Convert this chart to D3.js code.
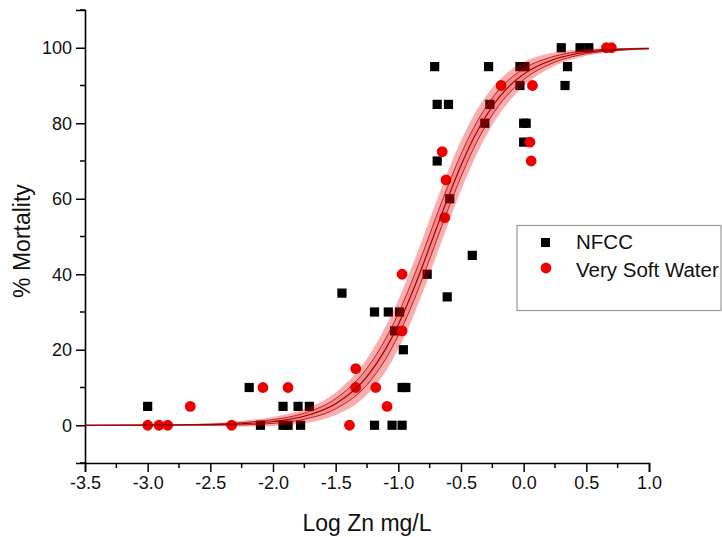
<!DOCTYPE html>
<html>
<head>
<meta charset="utf-8">
<script src="https://cdn.jsdelivr.net/npm/d3@7"></script>
<style>
  body { margin: 0; background: #fff; }
  text { font-family: "Liberation Sans", Arial, sans-serif; fill: #111; }
</style>
</head>
<body>
<div id="canvas"></div>
<script>
// points: [log Zn, % mortality]
var nfcc = [
  [-3.0, 5], [-2.19, 10], [-2.1, 0], [-1.92, 5], [-1.92, 0], [-1.88, 0],
  [-1.8, 5], [-1.71, 5], [-1.78, 0], [-1.45, 35], [-1.19, 30], [-1.08, 30],
  [-0.99, 30], [-1.19, 0], [-1.05, 0], [-0.97, 0], [-1.03, 25], [-0.96, 20],
  [-0.97, 10], [-0.94, 10], [-0.77, 40], [-0.61, 34], [-0.41, 45], [-0.59, 60],
  [-0.69, 70], [-0.69, 85], [-0.6, 85], [-0.71, 95], [-0.27, 85], [-0.31, 80],
  [-0.28, 95], [-0.03, 90], [0.0, 80], [0.02, 80], [0.0, 75], [-0.03, 95],
  [0.01, 95], [0.33, 90], [0.35, 95], [0.3, 100], [0.45, 100], [0.52, 100]
];
var softWater = [
  [-3.0, 0], [-2.91, 0], [-2.84, 0], [-2.33, 0], [-1.39, 0],
  [-2.66, 5], [-1.09, 5], [-2.08, 10], [-1.88, 10], [-1.34, 10], [-1.18, 10],
  [-1.34, 15], [-0.97, 25], [-0.97, 40], [-0.63, 55], [-0.62, 65], [-0.65, 72.5],
  [0.06, 70], [0.05, 75], [-0.18, 90], [0.07, 90], [0.66, 100], [0.7, 100]
];

// fitted curve and its bands, read at these x positions
var curveX  = [-3.5, -3.0, -2.5, -2.25, -2.0, -1.75, -1.5, -1.25, -1.1, -1.0, -0.9, -0.8, -0.7, -0.6, -0.5, -0.4, -0.3, -0.2, -0.1, 0.0, 0.25, 0.5, 0.75, 1.0];
var fitY    = [0, 0.03, 0.16, 0.4, 1.0, 2.4, 5.7, 12.9, 20.3, 26.7, 34.3, 42.8, 51.8, 60.6, 68.8, 76.0, 81.9, 86.7, 90.3, 93.0, 97.0, 98.8, 99.5, 99.8];
var outerLo = [0, -0.02, -0.2, -0.4, -0.2, 0.5, 2.7, 8.1, 14.3, 20.2, 27.3, 35.6, 44.6, 53.6, 62.2, 70.0, 76.6, 82.1, 86.4, 89.8, 95.2, 97.9, 99.1, 99.6];
var outerHi = [0, 0.08, 0.5, 1.2, 2.2, 4.3, 8.7, 17.7, 26.3, 33.2, 41.3, 50.0, 59.0, 67.6, 75.4, 82.0, 87.2, 91.3, 94.2, 96.2, 98.8, 99.7, 99.9, 100];
var innerLo = [0, 0.01, 0.03, 0.1, 0.5, 1.6, 4.35, 10.7, 17.6, 23.8, 31.15, 39.55, 48.55, 57.45, 65.8, 73.3, 79.5, 84.6, 88.55, 91.55, 96.2, 98.4, 99.3, 99.7];
var innerHi = [0, 0.05, 0.29, 0.7, 1.5, 3.2, 7.05, 15.1, 23.0, 29.6, 37.45, 46.05, 55.05, 63.75, 71.8, 78.7, 84.3, 88.8, 92.05, 94.45, 97.8, 99.2, 99.7, 99.9];

var xTicks = [-3.5, -3.0, -2.5, -2.0, -1.5, -1.0, -0.5, 0.0, 0.5, 1.0];
var yTicks = [0, 20, 40, 60, 80, 100];
var seriesNames = ["NFCC", "Very Soft Water"];

var W = 722, H = 537;
var x = d3.scaleLinear().domain([-3.5, 1.0]).range([85, 649]);
var y = d3.scaleLinear().domain([-10, 110]).range([463, 10]);

var svg = d3.select("#canvas").append("svg")
    .attr("width", W).attr("height", H);

// axes
var xAxis = d3.axisBottom(x).tickValues(xTicks).tickFormat(d3.format(".1f"))
    .tickSizeOuter(0).tickSize(9).tickPadding(4);
var gx = svg.append("g").attr("transform", "translate(0," + y(-10) + ")").call(xAxis);
gx.selectAll("text").style("font-size", "18px").text(function (d) { return d3.format(".1f")(d).replace("−", "-"); });

var xMinor = d3.range(-3.25, 1.0, 0.5);
gx.selectAll(".minor").data(xMinor).enter().append("line")
    .attr("x1", function (d) { return x(d); }).attr("x2", function (d) { return x(d); })
    .attr("y1", 0).attr("y2", 5).attr("stroke", "#000").attr("stroke-width", 1.5);

var yAxis = d3.axisLeft(y).tickValues(yTicks).tickSizeOuter(0).tickSize(9).tickPadding(4);
var gy = svg.append("g").attr("transform", "translate(" + x(-3.5) + ",0)").call(yAxis);
gy.selectAll("text").style("font-size", "18px");
gy.selectAll(".minor").data(d3.range(-10, 111, 20)).enter().append("line")
    .attr("y1", function (d) { return y(d); }).attr("y2", function (d) { return y(d); })
    .attr("x1", 0).attr("x2", -5).attr("stroke", "#000").attr("stroke-width", 1.5);

[gx, gy].forEach(function (g) {
  g.select(".domain").attr("stroke", "#000").attr("stroke-width", 1.6);
  g.selectAll(".tick line").attr("stroke", "#000").attr("stroke-width", 1.5);
  g.selectAll("text").attr("fill", "#111").style("font-family", "'Liberation Sans', Arial, sans-serif");
});

svg.append("text").attr("x", 367).attr("y", 531)
    .attr("text-anchor", "middle").style("font-size", "23px").text("Log Zn mg/L");
svg.append("text").attr("transform", "translate(30,241) rotate(-90)")
    .attr("text-anchor", "middle").style("font-size", "23px").text("% Mortality");

// points
svg.append("g").selectAll("rect").data(nfcc).enter().append("rect")
    .attr("x", function (d) { return x(d[0]) - 4.6; })
    .attr("y", function (d) { return y(d[1]) - 4.6; })
    .attr("width", 9.2).attr("height", 9.2).attr("fill", "#000");
svg.append("g").selectAll("circle").data(softWater).enter().append("circle")
    .attr("cx", function (d) { return x(d[0]); })
    .attr("cy", function (d) { return y(d[1]); })
    .attr("r", 5.4).attr("fill", "#ee0000");

// bands and fit line over the points
var idx = d3.range(curveX.length);
function band(lo, hi) {
  return d3.area().curve(d3.curveMonotoneX)
    .x(function (i) { return x(curveX[i]); })
    .y0(function (i) { return y(lo[i]); })
    .y1(function (i) { return y(hi[i]); })(idx);
}
function line(vals) {
  return d3.line().curve(d3.curveMonotoneX)
    .x(function (i) { return x(curveX[i]); })
    .y(function (i) { return y(vals[i]); })(idx);
}
svg.append("path").attr("d", band(outerLo, outerHi)).attr("fill", "rgba(238,0,0,0.32)");
svg.append("path").attr("d", band(innerLo, innerHi)).attr("fill", "rgba(230,0,0,0.2)");
svg.append("path").attr("d", line(innerLo)).attr("fill", "none").attr("stroke", "#b00000").attr("stroke-width", 0.8);
svg.append("path").attr("d", line(innerHi)).attr("fill", "none").attr("stroke", "#b00000").attr("stroke-width", 0.8);
svg.append("path").attr("d", line(fitY)).attr("fill", "none").attr("stroke", "#900000").attr("stroke-width", 1.1);

// legend
var lg = svg.append("g");
lg.append("rect").attr("x", 517).attr("y", 225.5).attr("width", 204).attr("height", 85)
    .attr("fill", "#fff").attr("stroke", "#999").attr("stroke-width", 1.2);
lg.append("rect").attr("x", 541).attr("y", 238).attr("width", 9).attr("height", 9).attr("fill", "#000");
lg.append("circle").attr("cx", 546).attr("cy", 268).attr("r", 5.4).attr("fill", "#ee0000");
lg.selectAll("text.lab").data(seriesNames).enter().append("text")
    .attr("x", 576).attr("y", function (d, i) { return 249 + i * 27.5; })
    .style("font-size", "20.5px").text(function (d) { return d; });
</script>
</body>
</html>
